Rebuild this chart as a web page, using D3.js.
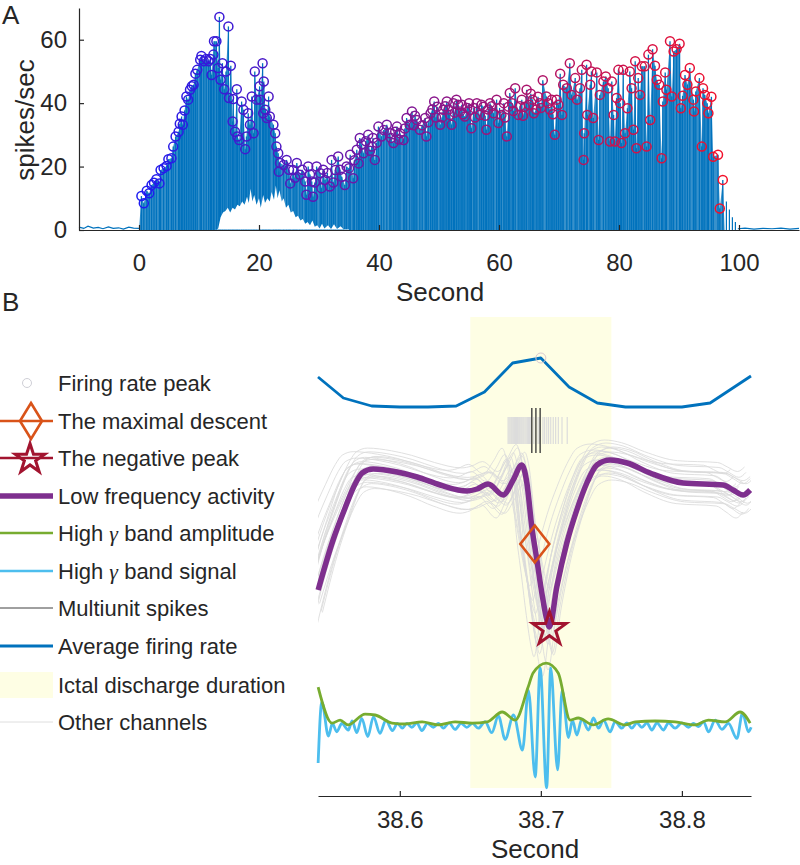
<!DOCTYPE html>
<html>
<head>
<meta charset="utf-8">
<script src="https://d3js.org/d3.v7.min.js"></script>
<style>
  body { margin: 0; background: #fff; }
  svg text { font-family: "Liberation Sans", Arial, sans-serif; fill: #262626; }
</style>
</head>
<body>
<svg id="fig" width="800" height="865"></svg>
<script>
// ---------- panel A data : firing-rate peaks of each ictal discharge ----------
var peakTimes = [0.4,0.8,1.3,1.7,2.1,2.5,2.9,3.4,3.6,4.1,4.6,4.9,5.4,5.7,6.1,6.6,6.8,7.1,7.3,7.6,7.9,8.2,8.5,8.8,9.1,9.4,9.7,10.2,10.4,10.8,
  11.2,11.6,11.9,12.1,12.4,12.5,12.9,13.2,13.4,13.6,13.9,14.2,14.5,14.9,15.0,15.3,15.6,15.7,16.0,16.3,16.4,16.7,17.1,17.4,17.7,17.9,18.2,18.5,18.8,19.1,
  19.3,19.6,20.1,20.2,20.6,20.7,20.8,21.05,21.3,21.6,21.8,22.4,22.7,22.9,23.2,23.3,23.5,24.1,24.6,25.0,25.2,25.7,26.0,26.3,26.8,27.2,27.7,27.9,28.2,28.5,
  28.8,29.0,29.3,29.6,30.2,30.4,30.7,31.0,31.4,31.8,32.1,32.4,32.7,33.2,33.5,33.8,34.3,34.6,35.0,35.2,35.7,35.9,36.3,36.6,36.8,37.1,37.4,37.8,38.2,38.5,
  38.8,39.0,39.3,39.6,39.9,40.4,40.8,41.3,41.8,42.0,42.4,42.7,43.0,43.3,43.5,44.1,44.3,44.6,45.1,45.5,45.8,46.0,46.3,46.8,47.2,47.7,47.9,48.2,48.6,48.9,
  49.2,49.5,49.7,50.2,50.5,50.7,51.0,51.3,51.6,51.8,52.1,52.4,52.6,52.9,53.2,53.5,53.8,54.0,54.3,54.7,55.0,55.2,55.4,55.8,56.0,56.3,56.8,57.1,57.4,57.7,
  57.9,58.2,58.5,58.8,59.1,59.6,59.9,60.1,60.4,60.8,61.0,61.3,61.6,61.8,62.2,62.4,62.7,63.2,63.5,63.8,64.0,64.3,64.6,65.0,65.3,65.6,65.8,66.2,66.5,66.8,
  67.0,67.3,67.9,68.2,68.5,68.8,69.0,69.3,69.6,69.9,70.2,70.5,70.7,71.3,71.8,72.1,72.7,73.0,73.5,73.8,74.1,74.2,74.6,74.7,75.2,75.4,75.7,76.3,76.6,76.8,
  77.4,77.8,78.2,78.5,78.8,79.1,79.3,79.6,79.9,80.2,80.4,80.7,81.0,81.4,81.8,82.1,82.4,82.7,82.9,83.2,83.5,83.8,84.3,84.6,84.9,85.2,85.6,86.0,86.3,86.7,
  87.1,87.3,87.7,87.9,88.5,88.8,89.1,89.6,90.1,90.3,90.6,91.0,91.4,91.8,92.4,92.5,92.8,93.4,93.8,94.0,94.3,94.7,94.9,95.4,95.7,96.5,96.8,97.3];
var peakRates = [10.7,8.4,12.4,11.6,14.2,14.9,16,14.7,18.9,19.5,20.2,22.3,22.6,26.3,29.5,31,33.5,35.8,33.2,37.7,42.1,41.1,44.2,45.3,45.8,49.3,50.5,53.7,54.9,53.2,
  53.9,53.2,53.9,48.9,55.3,59.5,59.5,51.1,67.2,47.4,52.6,44.4,50,64.2,41.6,51.8,34.2,41.3,31,44.4,29.5,28.4,40.5,37.9,25.5,29.5,36.8,33.2,42.1,30.5,
  50,41.1,45.3,41.1,52.6,36.8,46.8,37.9,35.3,42.1,35.8,33.2,30.5,26.3,24.2,18.4,21.1,20.5,22.1,19,14.7,18.9,16.5,21.1,17.4,19,15.3,11.1,20,17.5,
  15.3,10.5,15,20,17.9,13.2,19,15.8,18,13.7,22.1,15,18.9,23.2,19,16.8,14.2,20,19.5,23.7,16.3,22,25.3,21,29,27,24.2,28,30,25,
  26.3,29,22.1,27.5,32.6,29.5,31.5,33.2,30.5,29,27.4,31,32.6,28.5,30.5,28.4,32,35.3,33.2,37.4,33,36,34.7,31.6,33,35.3,29.5,34,36.8,38,
  40.5,35.5,38.9,33.2,35.5,37.9,39,40.5,38,36.3,33.2,40,37,41.1,39.5,37.4,39.5,36.5,35.8,38.5,40,37.9,32.1,38.5,35.5,40,36.3,39.5,38.9,36,
  31.6,38,40,39,36.8,41.1,33.7,38.5,36.3,40,35.5,29.5,38.9,43.2,40,37.5,44.7,36.3,39,41.1,36,38.9,44.2,39.5,43,41.1,36.8,38,42,40,
  38.5,47.2,42.1,40,38,41.1,36.5,30,41.1,39.5,49.3,36.3,45.8,44.7,52.6,42.6,47.9,41.1,44.7,50.5,22.1,30.5,52.1,36.3,45.8,50,35.3,49.7,28.4,42.6,
  46.8,48.4,44.7,27.9,46.8,36.3,27.9,41.6,50.5,40,27.4,50.5,30.5,38.4,50,44.7,31.6,53.2,25.8,47.9,42.6,51.6,51.6,26.3,55.3,34.7,57,51.8,47.4,45.8,
  22.6,40.5,49.7,44.2,59.5,42.1,56.3,57,58.7,38.4,42.3,48.9,45.8,51.1,41.1,37.4,43.7,47.9,26.3,44.7,42.6,40,36.8,42,23.1,23.7,6.8,15.8];
// lower envelope of the rate between discharges (13-35 s)
var troughTimes = [12.8,13.2,13.6,14.0,14.4,14.8,15.2,15.6,16.0,16.4,16.8,17.2,17.6,18.0,18.3,18.6,18.9,19.2,19.6,20.0,20.3,20.7,21.0,21.4,21.8,22.1,22.5,22.8,23.1,23.4,
  23.8,24.1,24.5,24.9,25.3,25.7,26.1,26.5,26.9,27.3,27.7,28.1,28.5,28.9,29.3,29.7,30.1,30.5,30.9,31.5,32.0,32.5,33.0,33.6,34.2,35.0];
var troughRates = [0,0.5,4,5.5,6,7,5.5,7,6.5,8,7.5,9,8,10.5,8.5,13,9,11,8,10,7,11,8.5,10,9,12,9.5,14,10,12.5,
  9,10,7,8,5.5,6,4,4.5,3,3.5,2,2.5,1.5,3,1,1.5,0.5,2,0.5,1.5,0.3,1.8,0.3,1.2,0,0];
// background activity before / after the seizure
var preTimes = [-10,-9.2,-8.5,-7.6,-6.8,-6,-5.1,-4.3,-3.4,-2.6,-1.7,-0.9,0];
var preRates = [0.9,0.5,1.2,0.6,0.8,0.4,1.0,0.5,0.7,0.3,0.9,0.6,0.5];
var tailTimes = [97.9,98.4,98.9,99.4];
var tailRates = [9,6.5,4,2.5];
var postTimes = [99.8,101,102.5,104,105.5,107,108.5,110];
var postRates = [0.4,0.6,0.3,0.5,0.4,0.6,0.3,0.5];
var xTicksA = [0,20,40,60,80,100];
var yTicksA = [0,20,40,60];

// ---------- panel B data (times in ms relative to 38.7 s) ----------
var tRef = 38.7;
var frMs = [-158,-140,-120,-100,-80,-60,-40,-20,0,20,40,60,80,100,120,149];
var frRate = [40,19,11,10,10,11,25,54,59,30,14,10,10,10,14,41];
var lfpMs = [-157.9,-147.3,-138.8,-131.7,-126.7,-118.9,-101.9,-87.7,-71.4,-52.3,-45.2,-37.4,-26.7,-19.6,-13.5,-9.9,-6.4,-2.8,0.7,4.3,
  6.1,11.3,18.4,25.5,32.6,39.7,49.1,61.2,77.5,100.9,129.3,136.3,143.4,148.4];
var lfpMv = [-1.30,-0.80,-0.48,-0.24,-0.13,-0.09,-0.12,-0.17,-0.25,-0.31,-0.29,-0.24,-0.35,-0.20,-0.05,-0.23,-0.67,-1.00,-1.33,-1.60,
  -1.67,-1.27,-0.83,-0.50,-0.23,-0.05,0.00,-0.03,-0.13,-0.23,-0.25,-0.30,-0.35,-0.30];
var ampMs = [-157.9,-148.0,-142.3,-136.7,-124.6,-117.5,-105.5,-96.2,-84.2,-72.8,-60.8,-48.7,-38.1,-27.4,-18.2,-9.0,-5.5,3.8,12.3,20.8,
  26.5,37.1,47.7,59.8,66.9,81.1,95.2,109.4,118.7,130.7,141.3,148.4];
var ampUv = [13.3,1.3,2.3,0.7,4.3,4.0,1.3,1.0,1.7,0.7,1.7,1.3,1.7,5.0,2.3,13.3,18.0,21.3,18.0,2.3,
  3.0,0.7,2.7,0.7,1.7,2.0,1.7,0.7,2.3,1.7,5.0,1.3];
var sigMs = [-157.9,-155.3,-150.6,-147.8,-144.7,-141.1,-136.5,-133.8,-130.5,-127.0,-122.7,-118.7,-114.0,-109.9,-105.2,-101.7,-98.2,-95.0,-91.5,-87.9,
  -84.4,-80.4,-76.2,-72.6,-69.1,-65.0,-60.8,-56.5,-52.5,-48.5,-44.3,-39.5,-34.8,-30.1,-25.3,-19.4,-13.0,-8.8,-4.0,-0.5,
  4.1,7.0,11.9,15.1,19.6,22.4,25.5,29.1,33.8,37.3,40.9,44.4,49.1,52.7,57.4,61.0,64.5,68.1,71.6,75.2,
  78.7,82.3,86.9,90.5,95.2,100.0,104.7,108.2,111.8,115.3,118.9,123.6,128.4,133.0,139.0,143.0,147.2,149.1];
var sigUv = [-12.0,8.4,-3.0,1.2,-1.6,1.2,-1.0,2.0,-1.9,2.9,-3.2,3.4,-2.1,2.3,-1.2,1.2,-0.4,1.2,-0.1,1.4,
  -1.2,1.2,-0.1,1.2,-0.4,1.4,-0.8,1.2,-0.1,1.2,-0.4,1.8,-1.9,3.7,-4.1,4.0,-7.7,12.3,-16.7,19.7,
  -20.3,19.7,-14.3,12.3,-3.5,2.3,-2.7,2.7,-1.0,3.0,-0.4,2.3,-1.6,1.8,-0.4,1.4,-0.4,1.4,-0.1,1.4,
  -1.0,1.4,-1.0,1.4,-0.4,1.4,-0.1,1.2,0.1,1.8,-1.6,2.3,-0.8,1.2,-3.8,4.6,-1.6,-0.1];
var spikeMs = [-6.4,-3.5,-0.5];
var otherSpikeMs = [-23.2,-22.5,-21.8,-21,-20.3,-19.5,-18.8,-18,-17.2,-16.5,-15.7,-15,-14.2,-13.5,-12.7,-12,-11.2,-10.4,-9.6,-8.8,
  -8,-7.2,-5,-2,-1.2,1.5,2.7,4.2,5.5,7,8.8,10.5,12.4,15,18.7];
// other channels: gain, lag (ms) and offset (mV) relative to the shown channel
var chanGain = [0.85,0.9,0.95,1.0,1.05,1.1,1.15,1.2,0.9,1.0,1.1,1.18,0.82,0.95,1.05,1.15,1.22,0.88,0.98,1.08,1.18,0.92,1.02,1.12];
var chanLag = [-14,-12,-10,-9,-8,-7,-6,-5,-4,-3,-2,-1,0,1,2,3,-11,-6,-3,-1,-8,-4,0,2];
var chanOffset = [0.16,0.1,0.05,0.0,-0.05,-0.1,0.13,-0.16,0.2,-0.08,0.03,-0.13,0.08,-0.2,0.13,-0.03,0.07,-0.1,0.17,-0.04,0.09,-0.14,0.12,-0.06];
var ictalMs = [-50, 50];
var descentMs = -4.3, descentMv = -0.84;
var negPeakMs = 6.1, negPeakMv = -1.67;
var frPeakMs = 0, frPeakRate = 59;
var xTicksB = [38.6, 38.7, 38.8];
var legendLabels = ["Firing rate peak","The maximal descent","The negative peak","Low frequency activity",
  "High |band amplitude","High |band signal","Multiunit spikes","Average firing rate","Ictal discharge duration","Other channels"];

var C_BLUE = "#0072BD", C_ORANGE = "#D95319", C_RED = "#A2142F", C_PURPLE = "#7E2F8E",
    C_GREEN = "#77AC30", C_CYAN = "#4DBEEE", C_YELLOW = "#FEFEE4", C_GRAY = "#dadada";

var svg = d3.select("#fig");

// ===================== PANEL A =====================
var xA = d3.scaleLinear().domain([-10, 110]).range([79, 799]);
var yA = d3.scaleLinear().domain([0, 70]).range([230, 8]);
var gA = svg.append("g");

var peaks = peakTimes.map(function(t, i) { return {t: t, v: peakRates[i]}; });
peaks.sort(function(a, b) { return a.t - b.t; });

var env = [{t: 0, v: 0}].concat(peaks).concat([{t: 97.6, v: 0}]);
gA.append("path").datum(env)
  .attr("d", d3.area().x(function(d) { return xA(d.t); }).y0(yA(0)).y1(function(d) { return yA(d.v); }))
  .attr("fill", C_BLUE).attr("opacity", 0.78);

gA.selectAll("line.stem").data(peaks).join("line").attr("class", "stem")
  .attr("x1", function(d) { return xA(d.t); }).attr("x2", function(d) { return xA(d.t); })
  .attr("y1", yA(0)).attr("y2", function(d) { return yA(d.v); })
  .attr("stroke", C_BLUE).attr("stroke-width", 1.3);

var troughs = troughTimes.map(function(t, i) { return {t: t, v: troughRates[i]}; });
gA.append("path").datum(troughs)
  .attr("d", d3.area().x(function(d) { return xA(d.t); }).y0(yA(0) - 0.5).y1(function(d) { return yA(d.v); }))
  .attr("fill", "#fff");

var tails = tailTimes.map(function(t, i) { return {t: t, v: tailRates[i]}; });
gA.selectAll("line.tail").data(tails).join("line").attr("class", "tail")
  .attr("x1", function(d) { return xA(d.t); }).attr("x2", function(d) { return xA(d.t); })
  .attr("y1", yA(0)).attr("y2", function(d) { return yA(d.v); })
  .attr("stroke", C_BLUE).attr("stroke-width", 1.2);

var noiseLine = d3.line().x(function(d) { return xA(d.t); }).y(function(d) { return yA(d.v); });
[[preTimes, preRates], [postTimes, postRates]].forEach(function(p) {
  gA.append("path").datum(p[0].map(function(t, i) { return {t: t, v: p[1][i]}; }))
    .attr("d", noiseLine).attr("fill", "none").attr("stroke", C_BLUE).attr("stroke-width", 1.2);
});

var axAy = gA.append("g").attr("transform", "translate(79,0)")
  .call(d3.axisLeft(yA).tickValues(yTicksA).tickSize(-5).tickSizeOuter(0).tickPadding(12));
var axAx = gA.append("g").attr("transform", "translate(0,230)")
  .call(d3.axisBottom(xA).tickValues(xTicksA).tickSize(-5).tickSizeOuter(0).tickPadding(24));
[axAy, axAx].forEach(function(ax) {
  ax.selectAll("path,line").attr("stroke", "#262626").attr("stroke-width", 1.2);
  ax.selectAll("text").attr("font-size", 24).attr("fill", "#262626").attr("font-family", "Liberation Sans, Arial, sans-serif");
});

var peakColor = d3.scaleLinear().domain([0, 97]).range(["#1c1cf2", "#f2102a"]);
gA.selectAll("circle.pk").data(peaks).join("circle").attr("class", "pk")
  .attr("cx", function(d) { return xA(d.t); }).attr("cy", function(d) { return yA(d.v); })
  .attr("r", 4.5).attr("fill", "none")
  .attr("stroke", function(d) { return peakColor(d.t); }).attr("stroke-width", 1.5);

gA.append("text").attr("transform", "translate(34,120) rotate(-90)").attr("text-anchor", "middle")
  .attr("font-size", 26).text("spikes/sec");
gA.append("text").attr("x", 440).attr("y", 301).attr("text-anchor", "middle").attr("font-size", 26).text("Second");
svg.append("text").attr("x", 2).attr("y", 24).attr("font-size", 26).text("A");
svg.append("text").attr("x", 2).attr("y", 311).attr("font-size", 26).text("B");

// ===================== PANEL B =====================
var xB = d3.scaleLinear().domain([38.542, 38.849]).range([318, 751]);
var yFR = d3.scaleLinear().domain([0, 60]).range([417, 357]);
var yLFP = d3.scaleLinear().domain([-1.8, 0.2]).range([640, 440]);
var yG = d3.scaleLinear().domain([-20, 20]).range([787, 667]);
var yR = d3.scaleLinear().domain([0, 1]).range([453, 408]);
function tx(ms) { return xB(tRef + ms / 1000); }
var gB = svg.append("g");

svg.append("defs").append("clipPath").attr("id", "clipB")
  .append("rect").attr("x", 318).attr("y", 300).attr("width", 433).attr("height", 500);

// ictal discharge duration
gB.append("rect").attr("x", tx(ictalMs[0])).attr("width", tx(ictalMs[1]) - tx(ictalMs[0]))
  .attr("y", 317).attr("height", 471).attr("fill", C_YELLOW);

// other channels
var lfpPts = lfpMs.map(function(m, i) { return {m: m, v: lfpMv[i]}; });
var lfpLine = d3.line().curve(d3.curveMonotoneX).x(function(d) { return tx(d.m); }).y(function(d) { return yLFP(d.v); });
var gCh = gB.append("g").attr("clip-path", "url(#clipB)");
chanGain.forEach(function(g, c) {
  var pts = lfpPts.map(function(p) { return {m: p.m + chanLag[c], v: p.v * g + chanOffset[c]}; });
  gCh.append("path").datum(pts).attr("d", lfpLine).attr("fill", "none")
    .attr("stroke", C_GRAY).attr("stroke-width", 1).attr("opacity", 0.85);
});

// multiunit raster
gB.selectAll("line.os").data(otherSpikeMs).join("line").attr("class", "os")
  .attr("x1", tx).attr("x2", tx).attr("y1", yR(0.2)).attr("y2", yR(0.8))
  .attr("stroke", "#dcdcdc").attr("stroke-width", 1.2);
gB.selectAll("line.sp").data(spikeMs).join("line").attr("class", "sp")
  .attr("x1", tx).attr("x2", tx).attr("y1", yR(0)).attr("y2", yR(1))
  .attr("stroke", "#333").attr("stroke-width", 1.3);

// average firing rate
var frPts = frMs.map(function(m, i) { return {m: m, v: frRate[i]}; });
gB.append("path").datum(frPts)
  .attr("d", d3.line().x(function(d) { return tx(d.m); }).y(function(d) { return yFR(d.v); }))
  .attr("fill", "none").attr("stroke", C_BLUE).attr("stroke-width", 2.8).attr("stroke-linejoin", "round");
gB.append("circle").attr("cx", tx(frPeakMs)).attr("cy", yFR(frPeakRate)).attr("r", 5)
  .attr("fill", "none").attr("stroke", "#d9c8cf").attr("stroke-width", 1);

// low frequency activity
gB.append("path").datum(lfpPts).attr("d", lfpLine).attr("fill", "none")
  .attr("stroke", C_PURPLE).attr("stroke-width", 5.5).attr("stroke-linejoin", "round");

function diamond(w, h) { return "M0," + (-h) + "L" + w + ",0L0," + h + "L" + (-w) + ",0Z"; }
gB.append("path").attr("d", diamond(14.5, 18.5))
  .attr("transform", "translate(" + tx(descentMs) + "," + yLFP(descentMv) + ")")
  .attr("fill", "none").attr("stroke", C_ORANGE).attr("stroke-width", 2.6);
gB.append("path").attr("d", d3.symbol(d3.symbolStar, 344)())
  .attr("transform", "translate(" + tx(negPeakMs) + "," + (yLFP(negPeakMv) + 2) + ")")
  .attr("fill", "none").attr("stroke", C_RED).attr("stroke-width", 3);

// high gamma
var gLine = d3.line().curve(d3.curveMonotoneX).x(function(d) { return tx(d.m); }).y(function(d) { return yG(d.v); });
gB.append("path").datum(sigMs.map(function(m, i) { return {m: m, v: sigUv[i]}; })).attr("d", gLine)
  .attr("fill", "none").attr("stroke", C_CYAN).attr("stroke-width", 2.8);
gB.append("path").datum(ampMs.map(function(m, i) { return {m: m, v: ampUv[i]}; })).attr("d", gLine)
  .attr("fill", "none").attr("stroke", C_GREEN).attr("stroke-width", 2.8);

// x axis
var axB = gB.append("g").attr("transform", "translate(0,796)")
  .call(d3.axisBottom(xB).tickValues(xTicksB).tickFormat(d3.format(".1f")).tickSize(-5).tickSizeOuter(0).tickPadding(15));
axB.selectAll("path,line").attr("stroke", "#262626").attr("stroke-width", 1.2);
axB.selectAll("text").attr("font-size", 24).attr("fill", "#262626").attr("font-family", "Liberation Sans, Arial, sans-serif");
gB.append("text").attr("x", 535).attr("y", 858).attr("text-anchor", "middle").attr("font-size", 26).text("Second");

// legend
var legY = [383, 421, 458, 496, 533, 571, 608, 646, 685, 722];
var gL = svg.append("g");
legendLabels.forEach(function(lbl, i) {
  var y = legY[i];
  var t = gL.append("text").attr("x", 58).attr("y", y).attr("dy", "0.36em").attr("font-size", 22);
  var parts = lbl.split("|");
  if (parts.length > 1) {
    t.append("tspan").text(parts[0]);
    t.append("tspan").attr("font-family", "Liberation Serif, serif").attr("font-style", "italic").text("\u03b3");
    t.append("tspan").text(" " + parts[1]);
  } else {
    t.text(lbl);
  }
  function hline(col, w) {
    gL.append("line").attr("x1", 0).attr("x2", 53).attr("y1", y).attr("y2", y).attr("stroke", col).attr("stroke-width", w);
  }
  if (i === 0) {
    gL.append("circle").attr("cx", 27).attr("cy", y).attr("r", 4.5).attr("fill", "none").attr("stroke", "#cfcfd6").attr("stroke-width", 1);
  } else if (i === 1) {
    hline(C_ORANGE, 2.6);
    gL.append("path").attr("d", diamond(11, 18)).attr("transform", "translate(31," + y + ")")
      .attr("fill", "none").attr("stroke", C_ORANGE).attr("stroke-width", 2.6);
  } else if (i === 2) {
    hline(C_RED, 2.6);
    gL.append("path").attr("d", d3.symbol(d3.symbolStar, 270)()).attr("transform", "translate(30," + (y + 1) + ")")
      .attr("fill", "none").attr("stroke", C_RED).attr("stroke-width", 3);
  } else if (i === 3) {
    hline(C_PURPLE, 5.5);
  } else if (i === 4) {
    hline(C_GREEN, 2.6);
  } else if (i === 5) {
    hline(C_CYAN, 2.6);
  } else if (i === 6) {
    hline("#404040", 1);
  } else if (i === 7) {
    hline(C_BLUE, 2.8);
  } else if (i === 8) {
    gL.append("rect").attr("x", 0).attr("y", y - 13).attr("width", 53).attr("height", 26).attr("fill", C_YELLOW);
  } else {
    hline("#dedede", 1);
  }
});
</script>
</body>
</html>
